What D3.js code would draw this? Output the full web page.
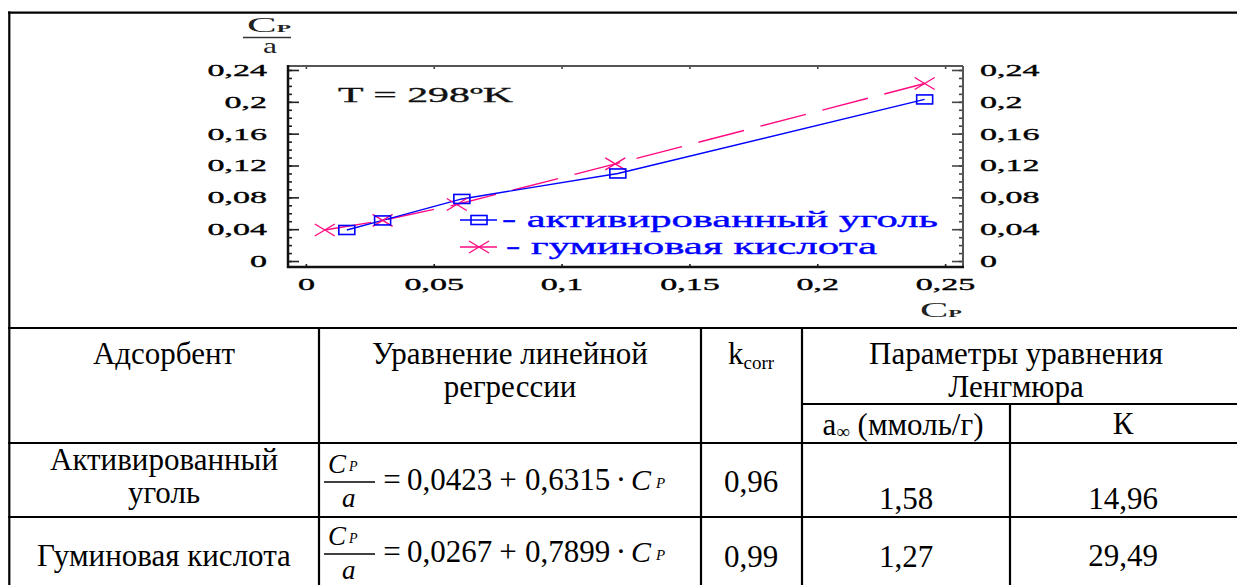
<!DOCTYPE html>
<html><head><meta charset="utf-8">
<script src="https://cdn.jsdelivr.net/npm/d3@7"></script>
<style>
html,body{margin:0;padding:0;background:#fff;}
svg{display:block;}
</style></head><body>
<svg id="c" width="1237" height="585"></svg>
<script>
// ---- chart data ----
const xTickValues = [0, 0.05, 0.1, 0.15, 0.2, 0.25];
const xTickLabels = ["0", "0,05", "0,1", "0,15", "0,2", "0,25"];
const yTickValues = [0, 0.04, 0.08, 0.12, 0.16, 0.2, 0.24];
const yTickLabels = ["0", "0,04", "0,08", "0,12", "0,16", "0,2", "0,24"];
const seriesNames = ["активированный уголь", "гуминовая кислота"];
const carbonCp = [0.016, 0.030, 0.061, 0.122, 0.242];
const carbonRatio = [0.039, 0.051, 0.078, 0.110, 0.203];
const humicCp = [0.0074, 0.030, 0.059, 0.121, 0.242];
const humicRatio = [0.039, 0.051, 0.071, 0.122, 0.223];
const temperatureLabel = "T = 298ºK";

// ---- table data ----
const headAdsorbent = "Адсорбент";
const headEquation = ["Уравнение линейной", "регрессии"];
const headParams = ["Параметры уравнения", "Ленгмюра"];
const headK = "К";
const adsorbentNames = [["Активированный", "уголь"], ["Гуминовая кислота"]];
const intercepts = ["0,0423", "0,0267"];
const slopes = ["0,6315", "0,7899"];
const kcorrValues = ["0,96", "0,99"];
const aInfValues = ["1,58", "1,27"];
const langmuirK = ["14,96", "29,49"];

const svg = d3.select("#c");
const SERIF = "'Liberation Serif','Times New Roman',serif";

function stretch(sel, k) {
  sel.each(function () {
    const L = this.getComputedTextLength();
    this.setAttribute("textLength", L * k);
    this.setAttribute("lengthAdjust", "spacingAndGlyphs");
  });
}
function fit(sel, w) {
  sel.attr("textLength", w).attr("lengthAdjust", "spacingAndGlyphs");
}

// ---- scales ----
const x = d3.scaleLinear().domain([-0.007, 0.257]).range([288, 963]);
const y = d3.scaleLinear().domain([-0.0075, 0.245]).range([267, 66]);
const minorY = d3.range(0, 0.2401, 0.01).map(v => +v.toFixed(2));

function styleAxis(g, color) {
  g.select(".domain").remove();
  g.selectAll(".tick line").attr("stroke", color).attr("stroke-width", 1.6);
  g.selectAll("text").attr("font-family", SERIF).attr("font-size", 17).attr("fill", "#000")
    .attr("stroke", "#000").attr("stroke-width", 0.35);
}

// minor ticks left / right
svg.append("g").attr("transform", "translate(288,0)")
  .call(d3.axisLeft(y).tickValues(minorY).tickFormat("").tickSizeInner(-4).tickSizeOuter(0))
  .call(g => styleAxis(g, "#222"));
svg.append("g").attr("transform", "translate(963,0)")
  .call(d3.axisRight(y).tickValues(minorY).tickFormat("").tickSizeInner(-4).tickSizeOuter(0))
  .call(g => styleAxis(g, "#444"));

// major left
const gL = svg.append("g").attr("transform", "translate(288,0)")
  .call(d3.axisLeft(y).tickValues(yTickValues).tickFormat((d, i) => yTickLabels[i])
    .tickSizeInner(-11).tickSizeOuter(0).tickPadding(21))
  .call(g => styleAxis(g, "#222"));
// major right
const gR = svg.append("g").attr("transform", "translate(963,0)")
  .call(d3.axisRight(y).tickValues(yTickValues).tickFormat((d, i) => yTickLabels[i])
    .tickSizeInner(-11).tickSizeOuter(0).tickPadding(17))
  .call(g => styleAxis(g, "#444"));
// bottom
const gB = svg.append("g").attr("transform", "translate(0,267)")
  .call(d3.axisBottom(x).tickValues(xTickValues).tickFormat((d, i) => xTickLabels[i])
    .tickSizeInner(-3).tickSizeOuter(0).tickPadding(11))
  .call(g => styleAxis(g, "#222"));
// top
svg.append("g").attr("transform", "translate(0,66)")
  .call(d3.axisTop(x).tickValues(xTickValues).tickFormat("").tickSizeInner(-3).tickSizeOuter(0))
  .call(g => styleAxis(g, "#444"));

stretch(gL.selectAll("text"), 2);
stretch(gR.selectAll("text"), 2);
stretch(gB.selectAll("text"), 2);

// frame
const fr = svg.append("g");
fr.append("line").attr("x1", 288).attr("x2", 963).attr("y1", 66).attr("y2", 66).attr("stroke", "#555").attr("stroke-width", 2);
fr.append("line").attr("x1", 963).attr("x2", 963).attr("y1", 66).attr("y2", 267).attr("stroke", "#555").attr("stroke-width", 2);
fr.append("line").attr("x1", 288).attr("x2", 288).attr("y1", 65).attr("y2", 268).attr("stroke", "#111").attr("stroke-width", 2.5);
fr.append("line").attr("x1", 287).attr("x2", 964).attr("y1", 267).attr("y2", 267).attr("stroke", "#111").attr("stroke-width", 2.5);

// axis titles
const yt = svg.append("text").attr("x", 247).attr("y", 32).attr("font-family", SERIF).attr("fill", "#222");
yt.append("tspan").attr("font-size", 21).text("C");
yt.append("tspan").attr("font-size", 11).attr("font-weight", "bold").text("P");
fit(yt, 44);
svg.append("line").attr("x1", 243).attr("x2", 291).attr("y1", 37.5).attr("y2", 37.5).attr("stroke", "#333").attr("stroke-width", 1.6);
const ya = svg.append("text").attr("x", 263).attr("y", 53).attr("font-family", SERIF).attr("font-size", 21).attr("fill", "#222").text("a");
fit(ya, 14);
const xt = svg.append("text").attr("x", 920).attr("y", 317).attr("font-family", SERIF).attr("fill", "#222");
xt.append("tspan").attr("font-size", 21).text("C");
xt.append("tspan").attr("font-size", 11).attr("font-weight", "bold").text("P");
fit(xt, 42);

// temperature label
const tl = svg.append("text").attr("x", 338).attr("y", 102).attr("font-family", SERIF).attr("font-size", 21)
  .attr("fill", "#111").attr("stroke", "#111").attr("stroke-width", 0.3).text(temperatureLabel);
fit(tl, 175);

// ---- series ----
const BLUE = "#0000ff", PINK = "#ff0a80";
const carbon = carbonCp.map((v, i) => [v, carbonRatio[i]]);
const humic = humicCp.map((v, i) => [v, humicRatio[i]]);
const line = d3.line().x(d => x(d[0])).y(d => y(d[1]));

svg.append("path").attr("d", line(humic)).attr("fill", "none").attr("stroke", PINK)
  .attr("stroke-width", 1.4).attr("stroke-dasharray", "47,17");
svg.append("path").attr("d", line(carbon)).attr("fill", "none").attr("stroke", BLUE).attr("stroke-width", 1.4);

function square(g, cx, cy) {
  g.append("rect").attr("x", cx - 8).attr("y", cy - 4.5).attr("width", 16).attr("height", 9)
    .attr("fill", "none").attr("stroke", BLUE).attr("stroke-width", 1.6);
}
function cross(g, cx, cy) {
  g.append("path").attr("d", `M${cx - 10},${cy - 6}L${cx + 10},${cy + 6}M${cx - 10},${cy + 6}L${cx + 10},${cy - 6}`)
    .attr("stroke", PINK).attr("stroke-width", 1.4).attr("fill", "none");
}
const mk = svg.append("g");
humic.forEach(d => cross(mk, x(d[0]), y(d[1])));
carbon.forEach(d => square(mk, x(d[0]), y(d[1])));

// legend
const lg = svg.append("g");
lg.append("line").attr("x1", 460).attr("x2", 497).attr("y1", 220).attr("y2", 220).attr("stroke", BLUE).attr("stroke-width", 1.4);
square(lg, 479, 220);
const l1 = lg.append("text").attr("x", 502).attr("y", 227).attr("font-family", SERIF).attr("font-size", 23)
  .attr("fill", BLUE).attr("stroke", BLUE).attr("stroke-width", 0.35).text("- " + seriesNames[0]);
fit(l1, 436);
lg.append("line").attr("x1", 460).attr("x2", 497).attr("y1", 247).attr("y2", 247).attr("stroke", PINK).attr("stroke-width", 1.4);
cross(lg, 479, 247);
const l2 = lg.append("text").attr("x", 506).attr("y", 254).attr("font-family", SERIF).attr("font-size", 23)
  .attr("fill", BLUE).attr("stroke", BLUE).attr("stroke-width", 0.35).text("- " + seriesNames[1]);
fit(l2, 371);

// ---- table ----
const tb = svg.append("g").attr("stroke", "#000").attr("stroke-width", 2.2);
const H = (y0, x1, x2) => tb.append("line").attr("x1", x1).attr("x2", x2).attr("y1", y0).attr("y2", y0);
const V = (x0, y1, y2) => tb.append("line").attr("x1", x0).attr("x2", x0).attr("y1", y1).attr("y2", y2);
H(12.7, 8, 1237); V(9.3, 11.6, 585);
H(328, 8, 1237); H(404, 802, 1237); H(443, 8, 1237); H(517, 8, 1237);
V(319, 328, 585); V(701, 328, 585); V(802, 328, 585); V(1010, 404, 585);

const TS = 31;
function cell(txt, cx, by, opts = {}) {
  return svg.append("text").attr("x", cx).attr("y", by).attr("text-anchor", opts.anchor || "middle")
    .attr("font-family", SERIF).attr("font-size", opts.size || TS).attr("fill", "#000")
    .attr("font-style", opts.italic ? "italic" : null).text(txt);
}
cell(headAdsorbent, 164, 364);
cell(headEquation[0], 510, 364);
cell(headEquation[1], 510, 397);
const kc = svg.append("text").attr("x", 751).attr("y", 364).attr("text-anchor", "middle")
  .attr("font-family", SERIF).attr("font-size", TS);
kc.append("tspan").text("k");
kc.append("tspan").attr("font-size", 19).attr("dy", 5).text("corr");
cell(headParams[0], 1016, 364);
cell(headParams[1], 1016, 397);
const ai = svg.append("text").attr("x", 903).attr("y", 435).attr("text-anchor", "middle")
  .attr("font-family", SERIF).attr("font-size", TS);
ai.append("tspan").text("a");
ai.append("tspan").attr("font-size", 19).attr("dy", 3).text("∞");
ai.append("tspan").attr("dy", -3).text(" (ммоль/г)");
cell(headK, 1123, 434);

// body rows
const rowBase = [490, 562];
adsorbentNames.forEach((nm, i) => {
  if (nm.length === 2) { cell(nm[0], 164, 470); cell(nm[1], 164, 503); }
  else cell(nm[0], 164, 566);
});
cell(kcorrValues[0], 751, 492); cell(kcorrValues[1], 751, 567);
cell(aInfValues[0], 906, 509); cell(aInfValues[1], 906, 567);
cell(langmuirK[0], 1123, 509); cell(langmuirK[1], 1123, 566);

// equations
rowBase.forEach((b, i) => {
  const num = svg.append("text").attr("x", 328).attr("y", b - 17).attr("font-family", SERIF).attr("font-style", "italic");
  num.append("tspan").attr("font-size", 27).text("C");
  num.append("tspan").attr("font-size", 14).attr("dx", 3).attr("dy", -2).text("P");
  svg.append("line").attr("x1", 324).attr("x2", 375).attr("y1", b - 8).attr("y2", b - 8).attr("stroke", "#000").attr("stroke-width", 1.4);
  cell("a", 342, b + 17, { anchor: "start", italic: true, size: 27 });
  cell("=", 392, b, { size: 31 });
  cell(intercepts[i], 407, b, { anchor: "start", size: 31 });
  cell("+", 508, b, { size: 31 });
  cell(slopes[i], 525, b, { anchor: "start", size: 31 });
  cell("·", 621, b, { size: 31 });
  const c = svg.append("text").attr("x", 631).attr("y", b).attr("font-family", SERIF).attr("font-style", "italic");
  c.append("tspan").attr("font-size", 30).text("C");
  c.append("tspan").attr("font-size", 15).attr("dx", 5).attr("dy", -2).text("P");
});
</script>
</body></html>
